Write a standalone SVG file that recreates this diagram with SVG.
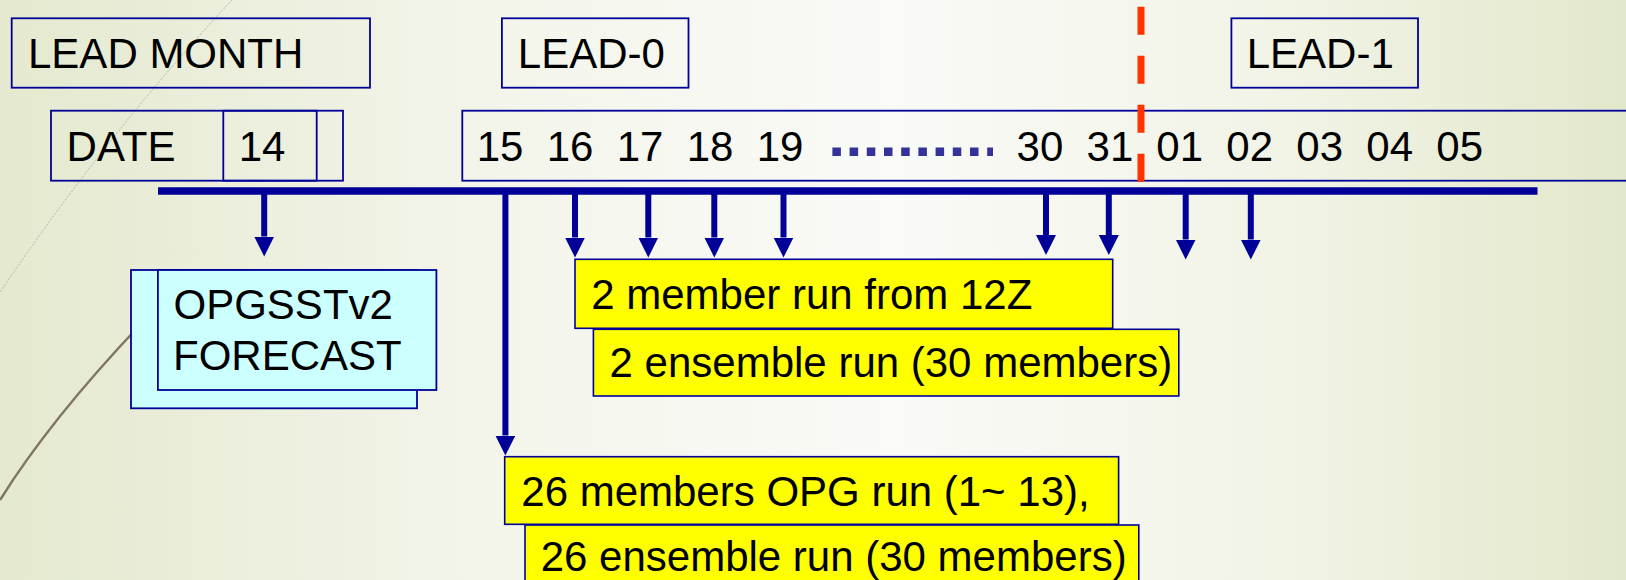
<svg xmlns="http://www.w3.org/2000/svg" width="1626" height="580" viewBox="0 0 1626 580">
<defs>
<linearGradient id="bg" x1="0" y1="0" x2="1" y2="0">
<stop offset="0" stop-color="#E4E9CF"/>
<stop offset="0.3" stop-color="#F3F5EA"/>
<stop offset="0.55" stop-color="#FAFAF7"/>
<stop offset="0.8" stop-color="#F1F3E5"/>
<stop offset="1" stop-color="#E2E8CB"/>
</linearGradient>
<marker id="ah" viewBox="0 0 20 20" markerWidth="20" markerHeight="20" refX="0" refY="10" markerUnits="userSpaceOnUse" orient="auto">
<path d="M0,0 L20,10 L0,20 Z" fill="#000099"/>
</marker>
<style>
text{font-family:"Liberation Sans",Arial,sans-serif;font-size:42px;fill:#000}
.box{fill:none;stroke:#000099;stroke-width:1.8}
.cyan{fill:#CCFFFF;stroke:#000099;stroke-width:1.8}
.yel{fill:#FFFF00;stroke:#000099;stroke-width:1.6}
.arr{stroke:#000099;stroke-width:6;fill:none;marker-end:url(#ah)}
</style>
</defs>
<rect x="0" y="0" width="1626" height="580" fill="url(#bg)"/>
<g id="decor">
<path d="M 232 0 Q 110 130 0 292" fill="none" stroke="#B4B4A8" stroke-width="1" stroke-dasharray="2 1.5"/>
<path d="M 0 500 Q 50 420 140 325" fill="none" stroke="#7F7560" stroke-width="2.5"/>
</g>
<g id="lead-month">
<rect class="box" x="11.7" y="18.3" width="358.3" height="69.4"/>
<text x="28" y="68">LEAD MONTH</text>
</g>
<g id="lead-0">
<rect class="box" x="501.9" y="18.3" width="186.6" height="69.4"/>
<text x="517.8" y="68">LEAD-0</text>
</g>
<g id="lead-1">
<rect class="box" x="1231.4" y="18.3" width="186.6" height="69.4"/>
<text x="1246.7" y="68">LEAD-1</text>
</g>
<g id="date">
<rect class="box" x="51" y="110.7" width="292" height="70"/>
<rect class="box" x="223.3" y="110.7" width="93.4" height="70"/>
<text x="66.6" y="161">DATE</text>
<text x="238.7" y="161">14</text>
</g>
<g id="date-row">
<rect class="box" x="462.3" y="110.7" width="1180" height="70"/>
<text x="476.7" y="161">15</text>
<text x="546.7" y="161">16</text>
<text x="616.7" y="161">17</text>
<text x="686.7" y="161">18</text>
<text x="756.7" y="161">19</text>
<line x1="832.4" y1="151.7" x2="993" y2="151.7" stroke="#333399" stroke-width="8.5" stroke-dasharray="8.5 8.7"/>
<text x="1016.6" y="161">30</text>
<text x="1086.6" y="161">31</text>
<text x="1156.3" y="161">01</text>
<text x="1226.3" y="161">02</text>
<text x="1296.3" y="161">03</text>
<text x="1366.3" y="161">04</text>
<text x="1436.3" y="161">05</text>
</g>
<g id="month-boundary">
<line x1="1141" y1="6.7" x2="1141" y2="181.7" stroke="#FF3300" stroke-width="7" stroke-dasharray="28 21"/>
</g>
<g id="connectors">
<line x1="158" y1="191" x2="1537.5" y2="191" stroke="#000099" stroke-width="7.5"/>
<line class="arr" x1="264.2" y1="194" x2="264.2" y2="236.5"/>
<line class="arr" x1="505.4" y1="194" x2="505.4" y2="435.5"/>
<line class="arr" x1="575" y1="194" x2="575" y2="237.5"/>
<line class="arr" x1="648.3" y1="194" x2="648.3" y2="237.5"/>
<line class="arr" x1="714.3" y1="194" x2="714.3" y2="237.5"/>
<line class="arr" x1="783.5" y1="194" x2="783.5" y2="237.5"/>
<line class="arr" x1="1046" y1="194" x2="1046" y2="235"/>
<line class="arr" x1="1108.8" y1="194" x2="1108.8" y2="235"/>
<line class="arr" x1="1185.7" y1="194" x2="1185.7" y2="239.5"/>
<line class="arr" x1="1250.8" y1="194" x2="1250.8" y2="239.5"/>
</g>
<g id="opgsst-forecast">
<rect class="cyan" x="131" y="270" width="286" height="138.3"/>
<rect class="cyan" x="157.9" y="270" width="278.5" height="120"/>
<text x="173.5" y="319.3">OPGSSTv2</text>
<text x="173" y="370">FORECAST</text>
</g>
<g id="member-run-12z">
<rect class="yel" x="575" y="259.3" width="537.7" height="69"/>
<text x="591.2" y="309.3">2 member run from 12Z</text>
</g>
<g id="ensemble-run-2">
<rect class="yel" x="593.4" y="329.3" width="585.4" height="66.7"/>
<text x="609.6" y="376.7">2 ensemble run (30 members)</text>
</g>
<g id="opg-run-26">
<rect class="yel" x="504.7" y="456.7" width="613.9" height="67.6"/>
<text x="521.3" y="505.7">26 members OPG run (1~ 13),</text>
</g>
<g id="ensemble-run-26">
<rect class="yel" x="525" y="525" width="613.8" height="70"/>
<text x="540.7" y="571">26 ensemble run (30 members)</text>
</g>
</svg>
